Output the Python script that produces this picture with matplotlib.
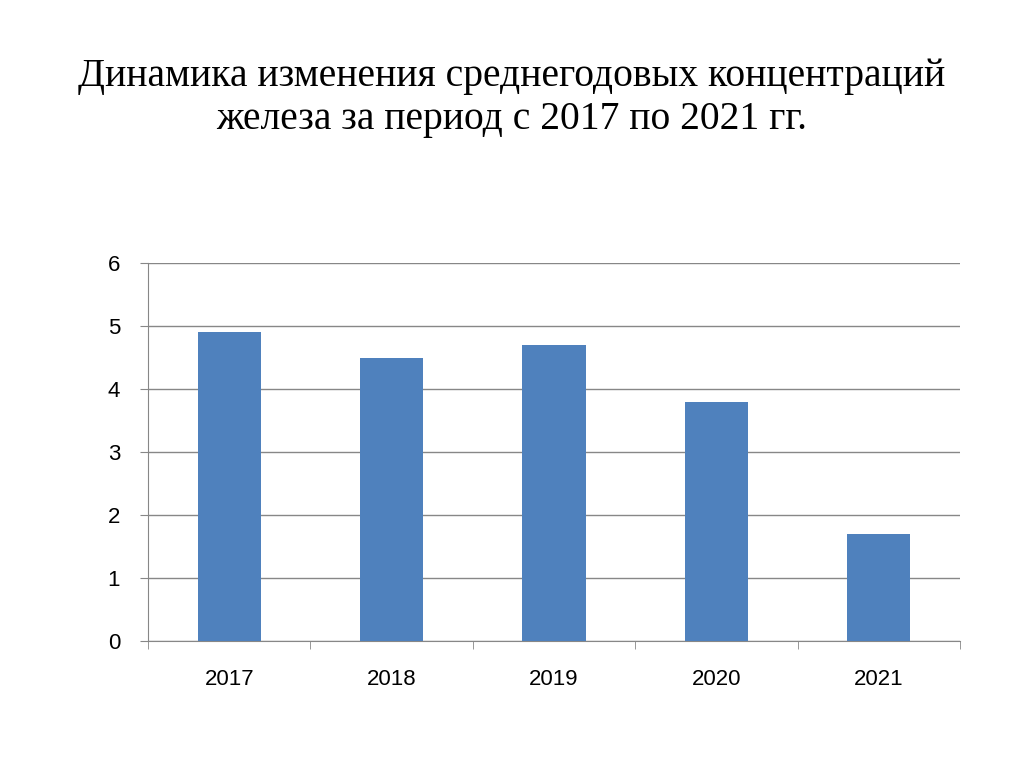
import matplotlib
matplotlib.use("Agg")
import matplotlib.pyplot as plt
import numpy as np

years = ["2017", "2018", "2019", "2020", "2021"]
values = [4.9, 4.5, 4.7, 3.8, 1.7]
title = "Динамика изменения среднегодовых концентраций\nжелеза за период с 2017 по 2021 гг."

fig = plt.figure(figsize=(10.24, 7.67), dpi=100)
fig.text(0.5, 1-98/767, title, ha="center", va="center", fontsize=28.5,
         family="Liberation Serif", linespacing=1.2)
ax = fig.add_axes([148/1024, 1-641/767, (960-148)/1024, (641-263)/767])
x = np.arange(len(years))
ax.bar(x, values, width=0.39, color="#4F81BD", zorder=3)
ax.set_xlim(-0.5, len(years)-0.5)
ax.set_ylim(0, 6)
ax.set_yticks(range(7))
ax.set_xticks(x)
ax.set_xticklabels(years)
ax.set_xticks(np.arange(-0.5, len(years)), minor=True)
ax.tick_params(axis="x", which="major", length=0, pad=20, labelsize=16)
ax.tick_params(axis="x", which="minor", length=6, color="#878787")
ax.tick_params(axis="y", length=6, color="#878787", labelsize=16, pad=14)
for lab in ax.get_xticklabels() + ax.get_yticklabels():
    lab.set_family("Liberation Sans")
ax.grid(axis="y", color="#878787", linewidth=1, zorder=0)
for s in ["top", "right"]:
    ax.spines[s].set_visible(False)
for s in ["left", "bottom"]:
    ax.spines[s].set_color("#878787")
fig.savefig("out.png", dpi=100)
